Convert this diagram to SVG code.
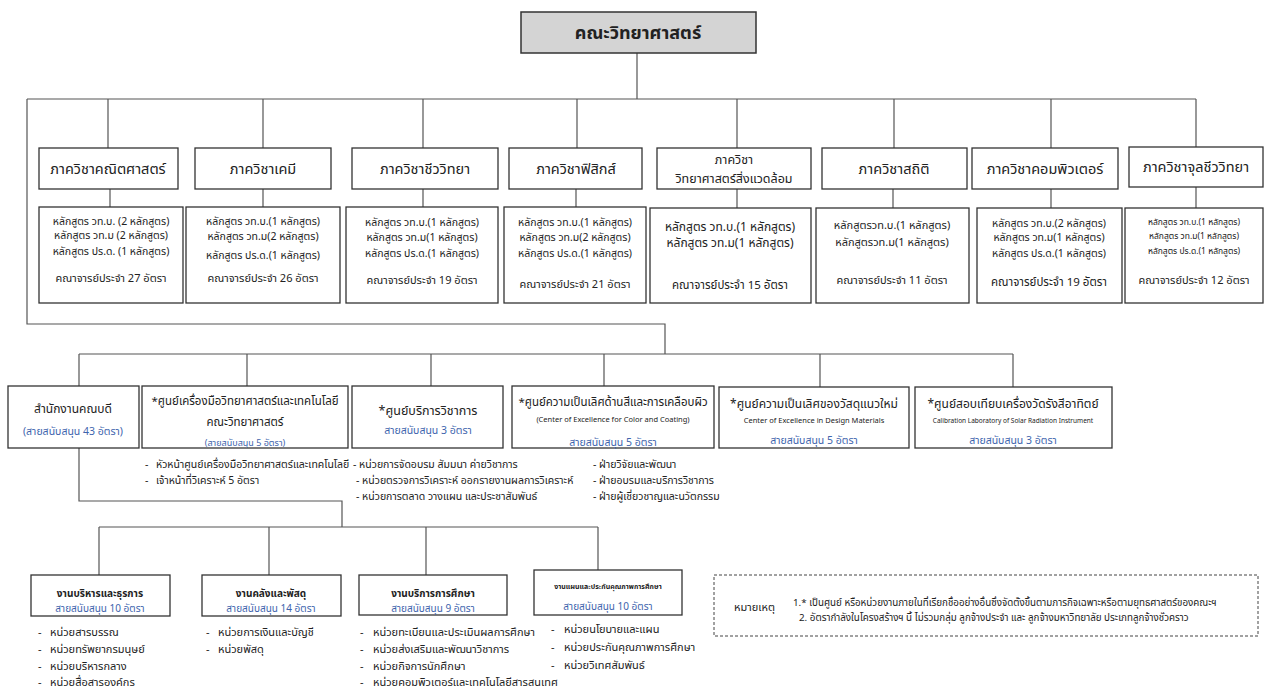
<svg xmlns="http://www.w3.org/2000/svg" width="1265" height="691" viewBox="0 0 1265 691">
<style>
text{font-family:Tahoma,"Noto Sans Thai","Leelawadee UI","DejaVu Sans",sans-serif;fill:#222}
.c{text-anchor:middle}
.box{fill:#fff;stroke:#333;stroke-width:1.3}
.ln{fill:none;stroke:#555;stroke-width:1.2}
.hd{font-size:14.5px}
.ct{font-size:10.5px}
.bl{fill:#4064ad}
.en{font-size:7.5px}
.li{font-size:10.5px}
.bi{font-size:11px}
.bh{font-size:10px;font-weight:bold}
</style>
<g id="connectors">
<path class="ln" d="M637 53V99M27 99H1196M108 99V148M263 99V148M423 99V148M577 99V148M737 99V148M894 99V148M1051 99V148M1196 99V147"/>
<path class="ln" d="M110 189V207M263 189V207M423 189V207M576 189V207M737 189V208M893 189V208M1051 189V208M1196 187V208"/>
<path class="ln" d="M27 99V324H665V354M79 354H1013M79 354V386M247 354V386M431 354V386M604 354V386M820 354V387M1013 354V387"/>
<path class="ln" d="M79 448V501H342V527M99 527H598M99 527V575M269 527V575M426 527V575M598 527V570"/>
</g>
<g id="faculty"><rect x="521" y="12" width="235" height="41" fill="#d4d4d4" stroke="#333" stroke-width="1.5"/><text class="c" x="638" y="39" font-size="18" font-weight="bold">คณะวิทยาศาสตร์</text></g>
<g id="d1"><rect class="box" x="39" y="148" width="139" height="41"/><text class="c hd" x="108" y="174">ภาควิชาคณิตศาสตร์</text></g>
<g id="d2"><rect class="box" x="195" y="148" width="136" height="41"/><text class="c hd" x="263" y="174">ภาควิชาเคมี</text></g>
<g id="d3"><rect class="box" x="352" y="148" width="146" height="41"/><text class="c hd" x="425" y="174">ภาควิชาชีววิทยา</text></g>
<g id="d4"><rect class="box" x="509" y="148" width="133" height="41"/><text class="c hd" x="576" y="174">ภาควิชาฟิสิกส์</text></g>
<g id="d5"><rect class="box" x="657" y="148" width="154" height="41"/><text class="c" x="734" y="164" font-size="12.5">ภาควิชา</text><text class="c" x="734" y="183" font-size="12.5">วิทยาศาสตร์สิ่งแวดล้อม</text></g>
<g id="d6"><rect class="box" x="822" y="148" width="145" height="41"/><text class="c hd" x="894" y="174">ภาควิชาสถิติ</text></g>
<g id="d7"><rect class="box" x="972" y="148" width="146" height="41"/><text class="c hd" x="1045" y="174">ภาควิชาคอมพิวเตอร์</text></g>
<g id="d8"><rect class="box" x="1129" y="147" width="134" height="40"/><text class="c hd" x="1196" y="172">ภาควิชาจุลชีววิทยา</text></g>
<g id="c1"><rect class="box" x="39" y="207" width="144" height="96"/>
<text class="c ct" x="111" y="225">หลักสูตร วท.บ. (2 หลักสูตร)</text>
<text class="c ct" x="111" y="239">หลักสูตร วท.ม  (2 หลักสูตร)</text>
<text class="c ct" x="111" y="255">หลักสูตร ปร.ด. (1 หลักสูตร)</text>
<text class="c" x="111" y="282" font-size="11">คณาจารย์ประจำ 27 อัตรา</text></g>
<g id="c2"><rect class="box" x="186" y="207" width="154" height="96"/>
<text class="c ct" x="263" y="225">หลักสูตร วท.บ.(1 หลักสูตร)</text>
<text class="c ct" x="263" y="240">หลักสูตร วท.ม(2 หลักสูตร)</text>
<text class="c ct" x="263" y="259">หลักสูตร ปร.ด.(1 หลักสูตร)</text>
<text class="c" x="263" y="282" font-size="11">คณาจารย์ประจำ 26 อัตรา</text></g>
<g id="c3"><rect class="box" x="346" y="207" width="152" height="96"/>
<text class="c ct" x="422" y="226">หลักสูตร วท.บ.(1 หลักสูตร)</text>
<text class="c ct" x="422" y="241">หลักสูตร วท.ม(1 หลักสูตร)</text>
<text class="c ct" x="422" y="257">หลักสูตร ปร.ด.(1 หลักสูตร)</text>
<text class="c" x="422" y="284" font-size="11">คณาจารย์ประจำ 19 อัตรา</text></g>
<g id="c4"><rect class="box" x="504" y="207" width="142" height="96"/>
<text class="c ct" x="575" y="226">หลักสูตร วท.บ.(1 หลักสูตร)</text>
<text class="c ct" x="575" y="241">หลักสูตร วท.ม(2 หลักสูตร)</text>
<text class="c ct" x="575" y="257">หลักสูตร ปร.ด.(1 หลักสูตร)</text>
<text class="c" x="575" y="288" font-size="11">คณาจารย์ประจำ 21 อัตรา</text></g>
<g id="c5"><rect class="box" x="650" y="208" width="161" height="95"/>
<text class="c" x="730" y="231" font-size="12">หลักสูตร วท.บ.(1 หลักสูตร)</text>
<text class="c" x="730" y="247" font-size="12">หลักสูตร วท.ม(1 หลักสูตร)</text>
<text class="c" x="730" y="289" font-size="11.5">คณาจารย์ประจำ 15 อัตรา</text></g>
<g id="c6"><rect class="box" x="816" y="208" width="153" height="95"/>
<text class="c" x="892" y="229" font-size="11">หลักสูตรวท.บ.(1 หลักสูตร)</text>
<text class="c" x="892" y="246" font-size="11">หลักสูตรวท.ม(1 หลักสูตร)</text>
<text class="c" x="892" y="284" font-size="11">คณาจารย์ประจำ 11 อัตรา</text></g>
<g id="c7"><rect class="box" x="977" y="208" width="145" height="95"/>
<text class="c ct" x="1049" y="227">หลักสูตร วท.บ.(2 หลักสูตร)</text>
<text class="c ct" x="1049" y="241">หลักสูตร วท.ม(1 หลักสูตร)</text>
<text class="c ct" x="1049" y="257">หลักสูตร ปร.ด.(1 หลักสูตร)</text>
<text class="c" x="1049" y="286" font-size="11.5">คณาจารย์ประจำ 19 อัตรา</text></g>
<g id="c8"><rect class="box" x="1125" y="208" width="138" height="95"/>
<text class="c" x="1194" y="225" font-size="8.5">หลักสูตร วท.บ.(1 หลักสูตร)</text>
<text class="c" x="1194" y="239" font-size="8.5">หลักสูตร วท.ม(1 หลักสูตร)</text>
<text class="c" x="1194" y="254" font-size="8.5">หลักสูตร ปร.ด.(1 หลักสูตร)</text>
<text class="c" x="1194" y="284" font-size="11">คณาจารย์ประจำ 12 อัตรา</text></g>
<g id="m1"><rect class="box" x="8" y="386" width="131" height="62"/><text class="c" x="73" y="413" font-size="12">สำนักงานคณบดี</text><text class="c bl" x="73" y="435" font-size="10.5">(สายสนับสนุน 43 อัตรา)</text></g>
<g id="m2"><rect class="box" x="142" y="386" width="206" height="62"/><text class="c" x="245" y="405" font-size="11.5">*ศูนย์เครื่องมือวิทยาศาสตร์และเทคโนโลยี</text><text class="c" x="245" y="426" font-size="11.5">คณะวิทยาศาสตร์</text><text class="c bl" x="245" y="446" font-size="9">(สายสนับสนุน 5 อัตรา)</text></g>
<g id="m3"><rect class="box" x="352" y="386" width="151" height="62"/><text class="c" x="428" y="415" font-size="12.5">*ศูนย์บริการวิชาการ</text><text class="c bl" x="428" y="434" font-size="10.5">สายสนับสนุน 3 อัตรา</text></g>
<g id="m4"><rect class="box" x="512" y="386" width="202" height="62"/><text class="c" x="613" y="406" font-size="11.5">*ศูนย์ความเป็นเลิศด้านสีและการเคลือบผิว</text><text class="c en" x="613" y="422">(Center of Excellence for Color and Coating)</text><text class="c bl" x="613" y="446" font-size="10.5">สายสนับสนุน 5 อัตรา</text></g>
<g id="m5"><rect class="box" x="719" y="387" width="190" height="61"/><text class="c" x="814" y="408" font-size="12">*ศูนย์ความเป็นเลิศของวัสดุแนวใหม่</text><text class="c en" x="814" y="423">Center of Excellence in Design Materials</text><text class="c bl" x="814" y="444" font-size="10.5">สายสนับสนุน 5 อัตรา</text></g>
<g id="m6"><rect class="box" x="915" y="387" width="197" height="61"/><text class="c" x="1013" y="408" font-size="12">*ศูนย์สอบเทียบเครื่องวัดรังสีอาทิตย์</text><text class="c" x="1013" y="423" font-size="6.5">Calibration Laboratory of Solar Radiation Instrument</text><text class="c bl" x="1013" y="444" font-size="10.5">สายสนับสนุน 3 อัตรา</text></g>
<g id="m2list" class="li"><text x="145" y="468">-</text><text x="156" y="468">หัวหน้าศูนย์เครื่องมือวิทยาศาสตร์และเทคโนโลยี</text><text x="145" y="484">-</text><text x="156" y="484">เจ้าหน้าที่วิเคราะห์ 5 อัตรา</text></g>
<g id="m3list" class="li"><text x="353" y="468">- หน่วยการจัดอบรม สัมมนา ค่ายวิชาการ</text><text x="356" y="484">- หน่วยตรวจการวิเคราะห์ ออกรายงานผลการวิเคราะห์</text><text x="356" y="500">- หน่วยการตลาด วางแผน และประชาสัมพันธ์</text></g>
<g id="m4list" class="li"><text x="593" y="468">- ฝ่ายวิจัยและพัฒนา</text><text x="593" y="484">- ฝ่ายอบรมและบริการวิชาการ</text><text x="593" y="500">- ฝ่ายผู้เชี่ยวชาญและนวัตกรรม</text></g>
<g id="b1"><rect class="box" x="31" y="575" width="139" height="41"/><text class="c bh" x="100" y="597">งานบริหารและธุรการ</text><text class="c bl" x="100" y="612" font-size="10">สายสนับสนุน 10 อัตรา</text></g>
<g id="b2"><rect class="box" x="202" y="575" width="139" height="41"/><text class="c bh" x="271" y="597">งานคลังและพัสดุ</text><text class="c bl" x="271" y="612" font-size="10">สายสนับสนุน 14 อัตรา</text></g>
<g id="b3"><rect class="box" x="359" y="575" width="148" height="40"/><text class="c bh" x="433" y="597">งานบริการการศึกษา</text><text class="c bl" x="433" y="612" font-size="10">สายสนับสนุน 9 อัตรา</text></g>
<g id="b4"><rect class="box" x="534" y="570" width="148" height="45"/><text class="c" x="608" y="589" font-size="7" font-weight="bold">งานแผนและประกันคุณภาพการศึกษา</text><text class="c bl" x="608" y="610" font-size="10">สายสนับสนุน 10 อัตรา</text></g>
<g id="b1list" class="bi"><text x="38" y="636">-</text><text x="50" y="636">หน่วยสารบรรณ</text><text x="38" y="653">-</text><text x="50" y="653">หน่วยทรัพยากรมนุษย์</text><text x="38" y="670">-</text><text x="50" y="670">หน่วยบริหารกลาง</text><text x="38" y="686">-</text><text x="50" y="686">หน่วยสื่อสารองค์กร</text></g>
<g id="b2list" class="bi"><text x="206" y="636">-</text><text x="218" y="636">หน่วยการเงินและบัญชี</text><text x="206" y="653">-</text><text x="218" y="653">หน่วยพัสดุ</text></g>
<g id="b3list" class="bi"><text x="360" y="636">-</text><text x="373" y="636">หน่วยทะเบียนและประเมินผลการศึกษา</text><text x="360" y="653">-</text><text x="373" y="653">หน่วยส่งเสริมและพัฒนาวิชาการ</text><text x="360" y="670">-</text><text x="373" y="670">หน่วยกิจการนักศึกษา</text><text x="360" y="686">-</text><text x="373" y="686">หน่วยคอมพิวเตอร์และเทคโนโลยีสารสนเทศ</text></g>
<g id="b4list" class="bi"><text x="551" y="633">-</text><text x="564" y="633">หน่วยนโยบายและแผน</text><text x="551" y="651">-</text><text x="564" y="651">หน่วยประกันคุณภาพการศึกษา</text><text x="551" y="669">-</text><text x="564" y="669">หน่วยวิเทศสัมพันธ์</text></g>
<g id="note"><rect x="714" y="575" width="544" height="61" fill="none" stroke="#444" stroke-width="1" stroke-dasharray="3,2"/>
<text x="734" y="611" font-size="11">หมายเหตุ</text>
<text x="793" y="606" font-size="9.8">1.* เป็นศูนย์ หรือหน่วยงานภายในที่เรียกชื่ออย่างอื่นซึ่งจัดตั้งขึ้นตามภารกิจเฉพาะหรือตามยุทธศาสตร์ของคณะฯ</text>
<text x="799" y="621" font-size="9.8">2.  อัตรากำลังในโครงสร้างฯ นี้ ไม่รวมกลุ่ม ลูกจ้างประจำ และ ลูกจ้างมหาวิทยาลัย ประเภทลูกจ้างชั่วคราว</text></g>
</svg>
